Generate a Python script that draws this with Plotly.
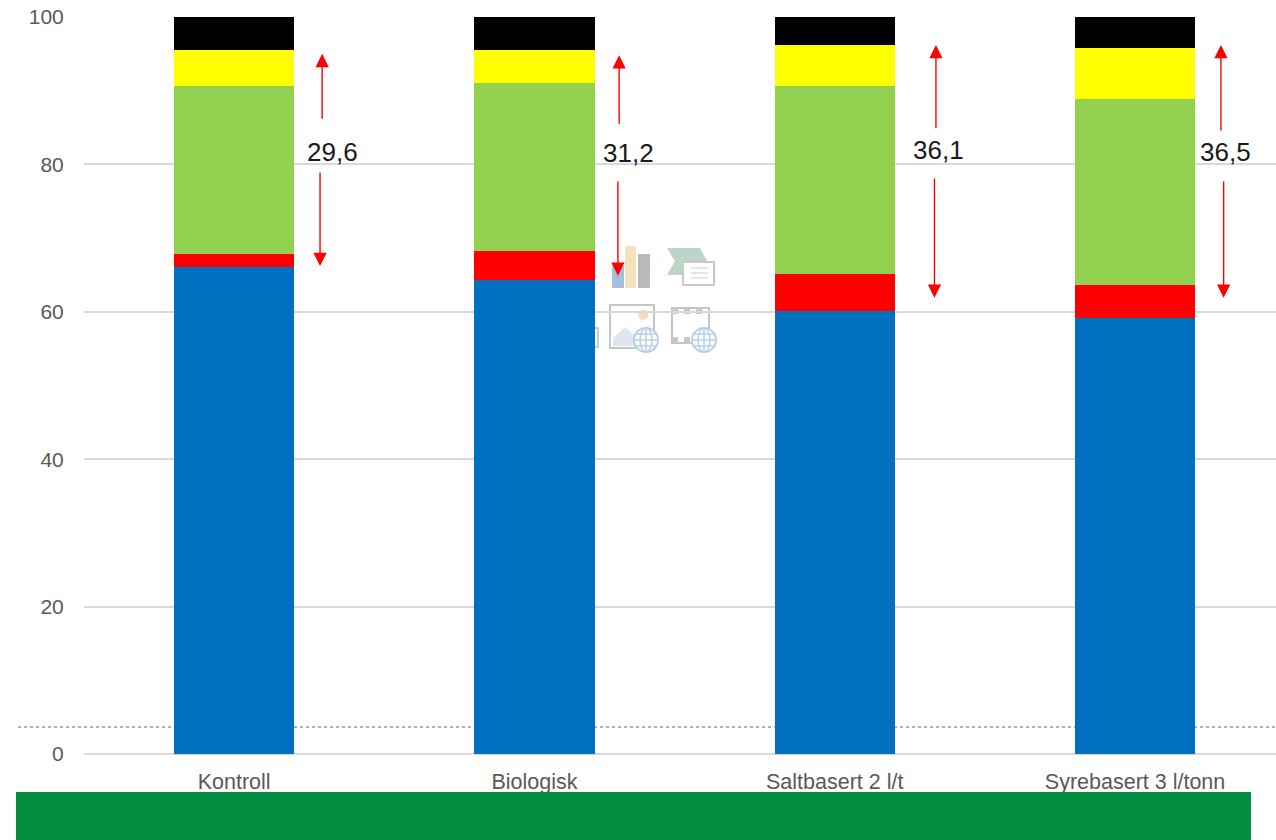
import plotly.graph_objects as go

categories = ["Kontroll", "Biologisk", "Saltbasert 2 l/t", "Syrebasert 3 l/tonn"]
blue = [66.1, 64.3, 60.1, 59.2]
red = [1.7, 4.0, 5.0, 4.4]
green = [22.8, 22.7, 25.5, 25.3]
yellow = [4.9, 4.5, 5.6, 6.9]
black = [4.5, 4.5, 3.8, 4.2]
series = [(blue, "#0070C0"), (red, "#FF0000"), (green, "#92D050"), (yellow, "#FFFF00"), (black, "#000000")]

labels = ["29,6", "31,2", "36,1", "36,5"]
label_x = [0.326, 1.312, 2.344, 3.30]
label_y = [81.7, 81.6, 81.9, 81.7]
up_x = [0.293, 1.282, 2.337, 3.286]
up_from = [86.0, 85.3, 84.7, 84.4]
up_to = [95.0, 94.8, 96.2, 96.2]
down_x = [0.286, 1.278, 2.332, 3.295]
down_from = [79.1, 77.9, 78.3, 77.9]
down_to = [66.2, 64.9, 61.9, 61.9]
dashed_level = 3.66

W, H = 1276, 840
L, R, T, B = 84, 0, 17, 86
def px(x):
    return (x - L) / (W - L - R)
def py(y):
    return (H - B - y) / (H - T - B)

fig = go.Figure()
for vals, col in series:
    fig.add_bar(x=list(range(4)), y=vals, width=0.4, marker=dict(color=col, line=dict(width=0)), showlegend=False)

shapes = []
def rect(x0, y0, x1, y1, fill="rgba(0,0,0,0)", line=None, w=2, layer="below"):
    shapes.append(dict(type="rect", xref="paper", yref="paper", x0=px(x0), x1=px(x1), y0=py(y0), y1=py(y1),
                       fillcolor=fill, line=dict(color=line or "rgba(0,0,0,0)", width=w if line else 0), layer=layer))
def poly(points, fill):
    d = "M" + " L".join(f"{px(a):.5f},{py(b):.5f}" for a, b in points) + " Z"
    shapes.append(dict(type="path", xref="paper", yref="paper", path=d, fillcolor=fill, line=dict(width=0), layer="below"))
def circ(cx, cy, r, fill, line=None, w=2):
    shapes.append(dict(type="circle", xref="paper", yref="paper", x0=px(cx - r), x1=px(cx + r), y0=py(cy + r), y1=py(cy - r),
                       fillcolor=fill, line=dict(color=line or "rgba(0,0,0,0)", width=w if line else 0), layer="below"))
def seg(x0, y0, x1, y1, col, w=1.5, dash="solid"):
    shapes.append(dict(type="line", xref="paper", yref="paper", x0=px(x0), x1=px(x1), y0=py(y0), y1=py(y1),
                       line=dict(color=col, width=w, dash=dash), layer="below"))

def globe(cx, cy):
    circ(cx, cy, 12, "#ffffff", "#b7cfe8", 2)
    seg(cx - 12, cy, cx + 12, cy, "#b7cfe8")
    seg(cx, cy - 12, cx, cy + 12, "#b7cfe8")
    seg(cx - 10, cy - 6, cx + 10, cy - 6, "#b7cfe8")
    seg(cx - 10, cy + 6, cx + 10, cy + 6, "#b7cfe8")
    shapes.append(dict(type="circle", xref="paper", yref="paper", x0=px(cx - 6), x1=px(cx + 6), y0=py(cy + 12), y1=py(cy - 12),
                       line=dict(color="#b7cfe8", width=1.5), layer="below"))

# faint placeholder icons behind the chart
rect(612, 266, 624, 288, "#a6bfd9")
rect(625, 246, 636, 288, "#f4e2bd")
rect(638, 254, 650, 288, "#b9b9b9")
poly([(667, 248), (700, 248), (707, 261), (682, 261), (682, 275), (667, 275), (675, 261)], "#bdd4c9")
rect(683, 262, 714, 285, "#ffffff", "#c9c9c9", 2)
for yy in (268, 273, 278):
    seg(691, yy, 708, yy, "#d6d6d6", 1.2)
rect(610, 305, 654, 348, "#ffffff", "#c6c6c6", 2)
circ(643, 315, 5, "#f5dcb2")
poly([(613, 346), (613, 338), (625, 327), (640, 340), (640, 346)], "#dfe6f0")
globe(646, 340)
rect(672, 308, 709, 343, "#ffffff", "#c6c6c6", 2)
seg(672, 311, 709, 311, "#c6c6c6", 6, "dot")
seg(672, 340, 692, 340, "#c6c6c6", 6, "dot")
globe(704, 340)
rect(592, 328, 598, 347, "#ffffff", "#b7cfe8", 2)

# dashed line and bottom band
shapes.append(dict(type="line", xref="paper", yref="y", x0=px(18), x1=1, y0=dashed_level, y1=dashed_level,
                   line=dict(color="#666666", width=1, dash="dot"), layer="below"))
rect(16, 792, 1251, 840, "#028D41", layer="above")

annotations = []
for i in range(4):
    for x0, y0, y1 in ((up_x[i], up_from[i], up_to[i]), (down_x[i], down_from[i], down_to[i])):
        annotations.append(dict(x=x0, y=y1, ax=x0, ay=y0, xref="x", yref="y", axref="x", ayref="y", text="",
                                showarrow=True, arrowhead=2, arrowsize=1.9, arrowwidth=1.4, arrowcolor="#FF0000"))
    annotations.append(dict(x=label_x[i], y=label_y[i], xref="x", yref="y", text=labels[i], showarrow=False,
                            font=dict(family="Liberation Sans", size=26, color="#1a1a1a"), bgcolor="rgba(0,0,0,0)"))

fig.update_layout(
    width=W, height=H, autosize=False, barmode="stack", bargap=0.6,
    margin=dict(l=L, r=R, t=T, b=B, pad=0),
    paper_bgcolor="#ffffff", plot_bgcolor="#ffffff",
    font=dict(family="Liberation Sans", color="#595959", size=20),
    shapes=shapes, annotations=annotations,
    xaxis=dict(range=[-0.5, (W - L) / 300.3 - 0.5], tickmode="array", tickvals=list(range(4)), ticktext=categories,
               showgrid=False, zeroline=False, showline=False, ticks="outside", ticklen=8, tickcolor="rgba(0,0,0,0)",
               tickfont=dict(size=21.5, color="#595959")),
    yaxis=dict(range=[0, 100], tickmode="array", tickvals=[0, 20, 40, 60, 80, 100],
               showgrid=True, gridcolor="#D9D9D9", gridwidth=1.5, zeroline=True, zerolinecolor="#D9D9D9", zerolinewidth=1.5,
               showline=False, ticks="outside", ticklen=15, tickcolor="rgba(0,0,0,0)",
               tickfont=dict(size=21, color="#595959")),
)
fig.write_html("out.html", config=dict(displayModeBar=False),
               post_script="document.body.style.margin='0';document.body.style.overflow='hidden';")
